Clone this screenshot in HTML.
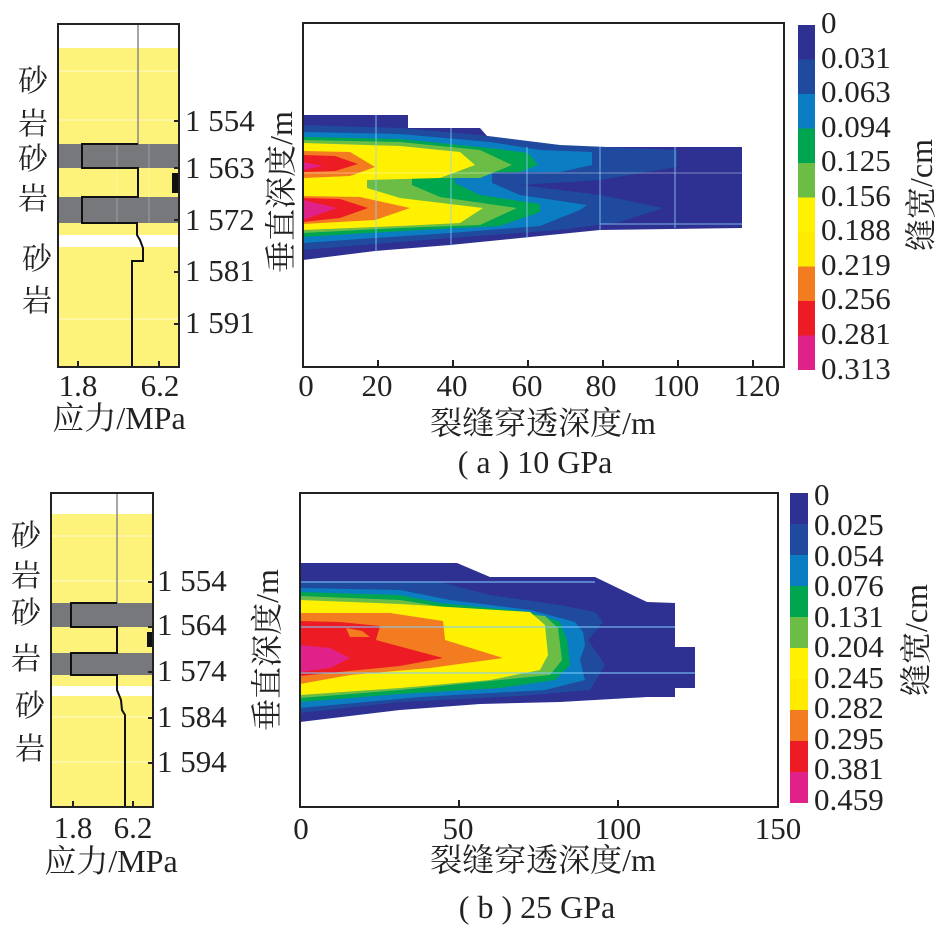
<!DOCTYPE html>
<html><head><meta charset="utf-8"><style>
html,body{margin:0;padding:0;background:#fff}
svg{display:block}
.n{font-family:"Liberation Serif",serif;font-size:31px;fill:#222}
.c{font-family:"Liberation Serif","Noto Serif CJK SC",serif;font-size:32px;fill:#222}
.s{font-family:"Liberation Serif","Noto Serif CJK SC",serif;font-size:30px;fill:#222}
</style></head><body>
<svg width="945" height="925" viewBox="0 0 945 925" xmlns="http://www.w3.org/2000/svg">
<!-- ===== TOP STRESS PANEL ===== -->
<rect x="58" y="24" width="121" height="343" fill="#fdf27a"/>
<rect x="58" y="24" width="121" height="24" fill="#fff"/>
<rect x="58" y="235" width="121" height="12" fill="#fff"/>
<rect x="58" y="144" width="121" height="24" fill="#77787b"/>
<rect x="58" y="197" width="121" height="26" fill="#77787b"/>
<g stroke="#fff" stroke-opacity="0.6" stroke-width="1">
<line x1="58" y1="71" x2="179" y2="71"/><line x1="58" y1="120" x2="179" y2="120"/><line x1="58" y1="319" x2="179" y2="319"/>
<line x1="117" y1="144" x2="117" y2="223" stroke-opacity="0.3"/><line x1="149" y1="144" x2="149" y2="223" stroke-opacity="0.3"/>
</g>
<polyline points="138,24 138,144" fill="none" stroke="#888" stroke-width="1.5"/>
<polyline points="138,144 82,144 82,168 138,168 138,197 82,197 82,223 137,223 137,235 140,240 143,248 143,261 132,261 132,367" fill="none" stroke="#111" stroke-width="2"/>
<rect x="172" y="173" width="6" height="20" fill="#111"/>
<rect x="58" y="24" width="121" height="343" fill="none" stroke="#222" stroke-width="2"/>
<g stroke="#222" stroke-width="2">
<line x1="174" y1="121" x2="179" y2="121"/><line x1="174" y1="168" x2="179" y2="168"/><line x1="174" y1="220" x2="179" y2="220"/><line x1="174" y1="272" x2="179" y2="272"/><line x1="174" y1="324" x2="179" y2="324"/>
<line x1="78" y1="361" x2="78" y2="367"/><line x1="159" y1="361" x2="159" y2="367"/>
</g>
<g class="n"><text x="185" y="131">1 554</text><text x="185" y="178">1 563</text><text x="185" y="230">1 572</text><text x="185" y="281">1 581</text><text x="185" y="333">1 591</text>
<text x="78" y="396" text-anchor="middle">1.8</text><text x="160" y="396" text-anchor="middle">6.2</text></g>
<text class="c" x="119" y="429" text-anchor="middle">应力/MPa</text>
<g class="s"><text x="18" y="91">砂</text><text x="18" y="134">岩</text><text x="18" y="169">砂</text><text x="18" y="209">岩</text><text x="22" y="269">砂</text><text x="22" y="311">岩</text></g>

<!-- ===== TOP CONTOUR ===== -->
<polygon points="303,115 408,115 408,128 480,128 495,145 495,147 742,147 742,228 600,230 540,236 450,245 375,251 303,260" fill="#2e3192"/>
<polygon points="303,125 400,128 480,135 560,145 677,150 677,167 600,180 520,185 600,195 663,208 620,222 560,230 450,238 375,244 303,250" fill="#1f4a9e"/>
<polygon points="303,132 400,134 490,142 540,150 592,152 592,165 560,172 492,172 492,183 520,195 587,205 580,210 540,226 450,233 375,238 303,243" fill="#0b7dc3"/>
<polygon points="303,137 400,139 490,148 528,153 538,165 520,172 455,173 455,183 480,195 540,204 540,212 500,226 420,230 303,237" fill="#00a550"/>
<polygon points="303,140 400,142 480,150 512,165 480,178 412,178 412,185 440,197 517,208 480,225 400,228 303,233" fill="#6cbd45"/>
<polygon points="303,143 400,146 460,152 475,165 440,178 367,180 367,188 400,198 483,208 460,223 400,226 303,230" fill="#fff100"/>
<polygon points="303,151 350,152 375,167 350,176 303,178" fill="#f47c20"/>
<polygon points="303,196 360,197 410,208 375,220 303,224" fill="#f47c20"/>
<polygon points="303,155 335,156 358,164 335,171 303,172" fill="#ed1c24"/>
<polygon points="303,198 340,199 368,208 340,218 303,222" fill="#ed1c24"/>
<polygon points="303,162 323,166 303,170" fill="#e0218a"/>
<polygon points="303,200 337,208 303,220" fill="#e0218a"/>
<g stroke="#8fd3ff" stroke-width="1" opacity="0.8">
<line x1="376" y1="115" x2="376" y2="252"/><line x1="451" y1="128" x2="451" y2="246"/><line x1="527" y1="147" x2="527" y2="238"/><line x1="600" y1="147" x2="600" y2="230"/><line x1="675" y1="147" x2="675" y2="228"/>
<line x1="303" y1="173" x2="742" y2="173" stroke="#fff" opacity="0.5"/>
<line x1="600" y1="224" x2="742" y2="224"/>
</g>
<rect x="303" y="23" width="481" height="344" fill="none" stroke="#222" stroke-width="2"/>
<g stroke="#222" stroke-width="2"><line x1="378" y1="360" x2="378" y2="367"/><line x1="453" y1="360" x2="453" y2="367"/><line x1="528" y1="360" x2="528" y2="367"/><line x1="603" y1="360" x2="603" y2="367"/><line x1="678" y1="360" x2="678" y2="367"/><line x1="753" y1="360" x2="753" y2="367"/></g>
<g class="n" text-anchor="middle"><text x="306" y="396">0</text><text x="377" y="396">20</text><text x="452" y="396">40</text><text x="527" y="396">60</text><text x="601" y="396">80</text><text x="676" y="396">100</text><text x="757" y="396">120</text></g>
<text class="c" x="543" y="434" text-anchor="middle">裂缝穿透深度/m</text>
<text class="c" x="535" y="473" text-anchor="middle">( a ) 10 GPa</text>
<text class="c" transform="translate(292,192) rotate(-90)" text-anchor="middle">垂直深度/m</text>
<g>
<rect x="798" y="25" width="17" height="34.5" fill="#2e3192"/>
<rect x="798" y="59.5" width="17" height="34.5" fill="#1f4a9e"/>
<rect x="798" y="94" width="17" height="34.5" fill="#0b7dc3"/>
<rect x="798" y="128.5" width="17" height="34.5" fill="#00a550"/>
<rect x="798" y="163" width="17" height="34.5" fill="#6cbd45"/>
<rect x="798" y="197.5" width="17" height="34.5" fill="#fff100"/>
<rect x="798" y="232" width="17" height="34.5" fill="#ffeb00"/>
<rect x="798" y="266.5" width="17" height="34.5" fill="#f47c20"/>
<rect x="798" y="301" width="17" height="34.5" fill="#ed1c24"/>
<rect x="798" y="335.5" width="17" height="34.5" fill="#e0218a"/>
</g>
<g class="n"><text x="821" y="33">0</text><text x="821" y="68">0.031</text><text x="821" y="102">0.063</text><text x="821" y="137">0.094</text><text x="821" y="171">0.125</text><text x="821" y="206">0.156</text><text x="821" y="240">0.188</text><text x="821" y="275">0.219</text><text x="821" y="309">0.256</text><text x="821" y="344">0.281</text><text x="821" y="379">0.313</text></g>
<text class="c" transform="translate(932,195) rotate(-90)" text-anchor="middle">缝宽/cm</text>

<!-- ===== BOTTOM STRESS PANEL ===== -->
<rect x="51" y="493" width="102" height="314" fill="#fdf27a"/>
<rect x="51" y="493" width="102" height="21" fill="#fff"/>
<rect x="51" y="686" width="102" height="10" fill="#fff"/>
<rect x="51" y="603" width="102" height="24" fill="#77787b"/>
<rect x="51" y="653" width="102" height="22" fill="#77787b"/>
<g stroke="#fff" stroke-opacity="0.6" stroke-width="1">
<line x1="51" y1="536" x2="153" y2="536"/><line x1="51" y1="581" x2="153" y2="581"/><line x1="51" y1="717" x2="153" y2="717"/><line x1="51" y1="762" x2="153" y2="762"/>
</g>
<polyline points="117,493 117,603" fill="none" stroke="#888" stroke-width="1.5"/>
<polyline points="117,603 71,603 71,627 117,627 117,653 71,653 71,675 117,675 117,690 121,700 122,710 125,715 125,807" fill="none" stroke="#111" stroke-width="2"/>
<rect x="147" y="632" width="5" height="15" fill="#111"/>
<rect x="51" y="493" width="102" height="314" fill="none" stroke="#222" stroke-width="2"/>
<g stroke="#222" stroke-width="2">
<line x1="148" y1="582" x2="153" y2="582"/><line x1="148" y1="627" x2="153" y2="627"/><line x1="148" y1="672" x2="153" y2="672"/><line x1="148" y1="718" x2="153" y2="718"/><line x1="148" y1="763" x2="153" y2="763"/>
<line x1="73" y1="801" x2="73" y2="807"/><line x1="133" y1="801" x2="133" y2="807"/>
</g>
<g class="n"><text x="157" y="591">1 554</text><text x="157" y="635">1 564</text><text x="157" y="681">1 574</text><text x="157" y="727">1 584</text><text x="157" y="772">1 594</text>
<text x="73" y="838" text-anchor="middle">1.8</text><text x="133" y="838" text-anchor="middle">6.2</text></g>
<text class="c" x="111" y="872" text-anchor="middle">应力/MPa</text>
<g class="s"><text x="11" y="546">砂</text><text x="11" y="586">岩</text><text x="11" y="623">砂</text><text x="11" y="669">岩</text><text x="15" y="716">砂</text><text x="15" y="759">岩</text></g>

<!-- ===== BOTTOM CONTOUR ===== -->
<polygon points="300,563 457,563 490,577 595,577 647,602 675,603 675,647 695,647 695,688 675,688 675,697 647,697 560,702 480,704 400,710 300,722" fill="#2e3192"/>
<polygon points="300,582 440,582 490,595 560,605 595,612 603,622 588,640 605,665 590,690 520,696 400,702 300,713" fill="#1f4a9e"/>
<polygon points="300,588 400,590 450,600 530,610 575,622 583,632 585,645 580,660 585,680 545,690 420,697 300,708" fill="#0b7dc3"/>
<polygon points="300,592 400,595 440,603 530,612 560,622 567,640 570,665 555,680 500,688 400,694 300,702" fill="#00a550"/>
<polygon points="300,596 400,600 450,608 545,616 558,628 562,660 550,675 400,690 300,698" fill="#6cbd45"/>
<polygon points="300,600 400,604 530,612 545,625 548,655 540,670 490,680 400,688 300,695" fill="#fff100"/>
<polygon points="300,613 390,613 443,621 445,640 503,658 430,668 350,675 300,684" fill="#f47c20"/>
<polygon points="300,621 340,622 380,626 376,640 443,658 400,666 300,676" fill="#ed1c24"/>
<polygon points="346,628 362,631 370,637 350,637" fill="#f47c20"/>
<polygon points="300,645 330,648 350,658 330,668 300,672" fill="#e0218a"/>
<g stroke="#7fcaff" stroke-width="1.2" opacity="0.85">
<line x1="300" y1="582" x2="595" y2="582"/><line x1="300" y1="627" x2="675" y2="627"/><line x1="300" y1="673" x2="695" y2="673"/>
</g>
<rect x="300" y="493" width="478" height="314" fill="none" stroke="#222" stroke-width="2"/>
<g stroke="#222" stroke-width="2"><line x1="459" y1="800" x2="459" y2="807"/><line x1="618" y1="800" x2="618" y2="807"/></g>
<g class="n" text-anchor="middle"><text x="301" y="839">0</text><text x="458" y="839">50</text><text x="618" y="839">100</text><text x="778" y="839">150</text></g>
<text class="c" x="543" y="871" text-anchor="middle">裂缝穿透深度/m</text>
<text class="c" x="537" y="918" text-anchor="middle">( b ) 25 GPa</text>
<text class="c" transform="translate(278,650) rotate(-90)" text-anchor="middle">垂直深度/m</text>
<g>
<rect x="790" y="493" width="18" height="31" fill="#2e3192"/>
<rect x="790" y="524" width="18" height="31" fill="#1f4a9e"/>
<rect x="790" y="555" width="18" height="31" fill="#0b7dc3"/>
<rect x="790" y="586" width="18" height="31" fill="#00a550"/>
<rect x="790" y="617" width="18" height="31" fill="#6cbd45"/>
<rect x="790" y="648" width="18" height="31" fill="#fff100"/>
<rect x="790" y="679" width="18" height="31" fill="#ffeb00"/>
<rect x="790" y="710" width="18" height="31" fill="#f47c20"/>
<rect x="790" y="741" width="18" height="31" fill="#ed1c24"/>
<rect x="790" y="772" width="18" height="31" fill="#e0218a"/>
</g>
<g class="n"><text x="814" y="505">0</text><text x="814" y="535">0.025</text><text x="814" y="566">0.054</text><text x="814" y="596">0.076</text><text x="814" y="627">0.131</text><text x="814" y="657">0.204</text><text x="814" y="688">0.245</text><text x="814" y="718">0.282</text><text x="814" y="749">0.295</text><text x="814" y="779">0.381</text><text x="814" y="810">0.459</text></g>
<text class="c" transform="translate(927,640) rotate(-90)" text-anchor="middle">缝宽/cm</text>
</svg>
</body></html>
